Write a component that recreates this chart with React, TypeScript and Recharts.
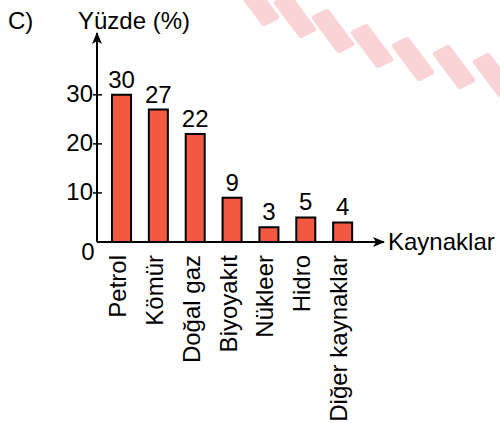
import { BarChart, Bar, XAxis, YAxis, LabelList } from 'recharts';

const categories = ['Petrol', 'Kömür', 'Doğal gaz', 'Biyoyakıt', 'Nükleer', 'Hidro', 'Diğer kaynaklar'];
const percents = [30, 27, 22, 9, 3, 5, 4];
const yTicks = [0, 10, 20, 30];

const data = categories.map((name, i) => ({ name, value: percents[i] }));

const FONT = '"Liberation Sans", Arial, sans-serif';
const FS = 24;

function YTick({ x, y, payload }: any) {
  if (payload.value === 0) {
    return (
      <text x={x - 9} y={y + 9} textAnchor="middle" dominantBaseline="central" fontSize={FS} fontFamily={FONT} fill="#000">
        0
      </text>
    );
  }
  return (
    <g>
      <line x1={x - 4} x2={x + 5} y1={y} y2={y} stroke="#000" strokeWidth={1.5} />
      <text x={x - 4} y={y - 1} textAnchor="end" dominantBaseline="central" fontSize={FS} fontFamily={FONT} fill="#000">
        {payload.value}
      </text>
    </g>
  );
}

function XTick({ x, y, payload }: any) {
  return (
    <text
      transform={`translate(${x - 4},${y + 13}) rotate(-90)`}
      textAnchor="end"
      dominantBaseline="central"
      fontSize={FS}
      fontFamily={FONT}
      fill="#000"
    >
      {payload.value}
    </text>
  );
}

// pink watermark leaves in the top right corner
const blobs = [
  [258, 4], [295, 16], [333, 31], [372, 46], [413, 59], [454, 67], [494, 75],
];

export default function App() {
  return (
    <div style={{ position: 'absolute', left: 0, top: 0, width: 500, height: 423, background: '#fff', overflow: 'hidden' }}>
      <svg width={500} height={423} style={{ position: 'absolute', left: 0, top: 0 }}>
        <defs>
          <marker id="arrowHead" viewBox="0 0 12 10" refX="11" refY="5" markerWidth="12" markerHeight="10" markerUnits="userSpaceOnUse" orient="auto-start-reverse">
            <path d="M0,0 L12,5 L0,10 L3,5 z" fill="#000" />
          </marker>
        </defs>
        {blobs.map(([cx, cy], i) => (
          <path
            key={i}
            d="M-18,-13 L-6,-19 L18,13 L6,19 Z"
            transform={`translate(${cx},${cy})`}
            fill="#f9d3d6"
            stroke="#f9d3d6"
            strokeWidth={6}
            strokeLinejoin="round"
          />
        ))}
        <text x={8} y={29} fontSize={FS} fontFamily={FONT} fill="#000">C)</text>
        <text x={78} y={29} fontSize={FS} fontFamily={FONT} fill="#000">Yüzde (%)</text>
        <text x={388} y={250} fontSize={FS} fontFamily={FONT} fill="#000">Kaynaklar</text>
      </svg>
      <div style={{ position: 'absolute', left: 0, top: 0 }}>
        <BarChart width={500} height={423} data={data} margin={{ top: 33, right: 116, bottom: 0, left: 0 }}>
          <XAxis
            dataKey="name"
            height={181}
            interval={0}
            padding={{ left: 6, right: 23 }}
            tickLine={false}
            tickSize={0}
            tickMargin={0}
            tick={<XTick />}
            axisLine={{ stroke: '#000', strokeWidth: 2, markerEnd: 'url(#arrowHead)' }}
          />
          <YAxis
            width={97}
            domain={[0, 42.6]}
            ticks={yTicks}
            interval={0}
            tickLine={false}
            tickSize={0}
            tickMargin={0}
            tick={<YTick />}
            axisLine={{ stroke: '#000', strokeWidth: 2, markerStart: 'url(#arrowHead)' }}
          />
          <Bar dataKey="value" barSize={19} fill="#f15a40" stroke="#000" strokeWidth={2} isAnimationActive={false}>
            <LabelList dataKey="value" position="top" offset={7} fontSize={FS} fontFamily={FONT} fill="#000" />
          </Bar>
        </BarChart>
      </div>
    </div>
  );
}
